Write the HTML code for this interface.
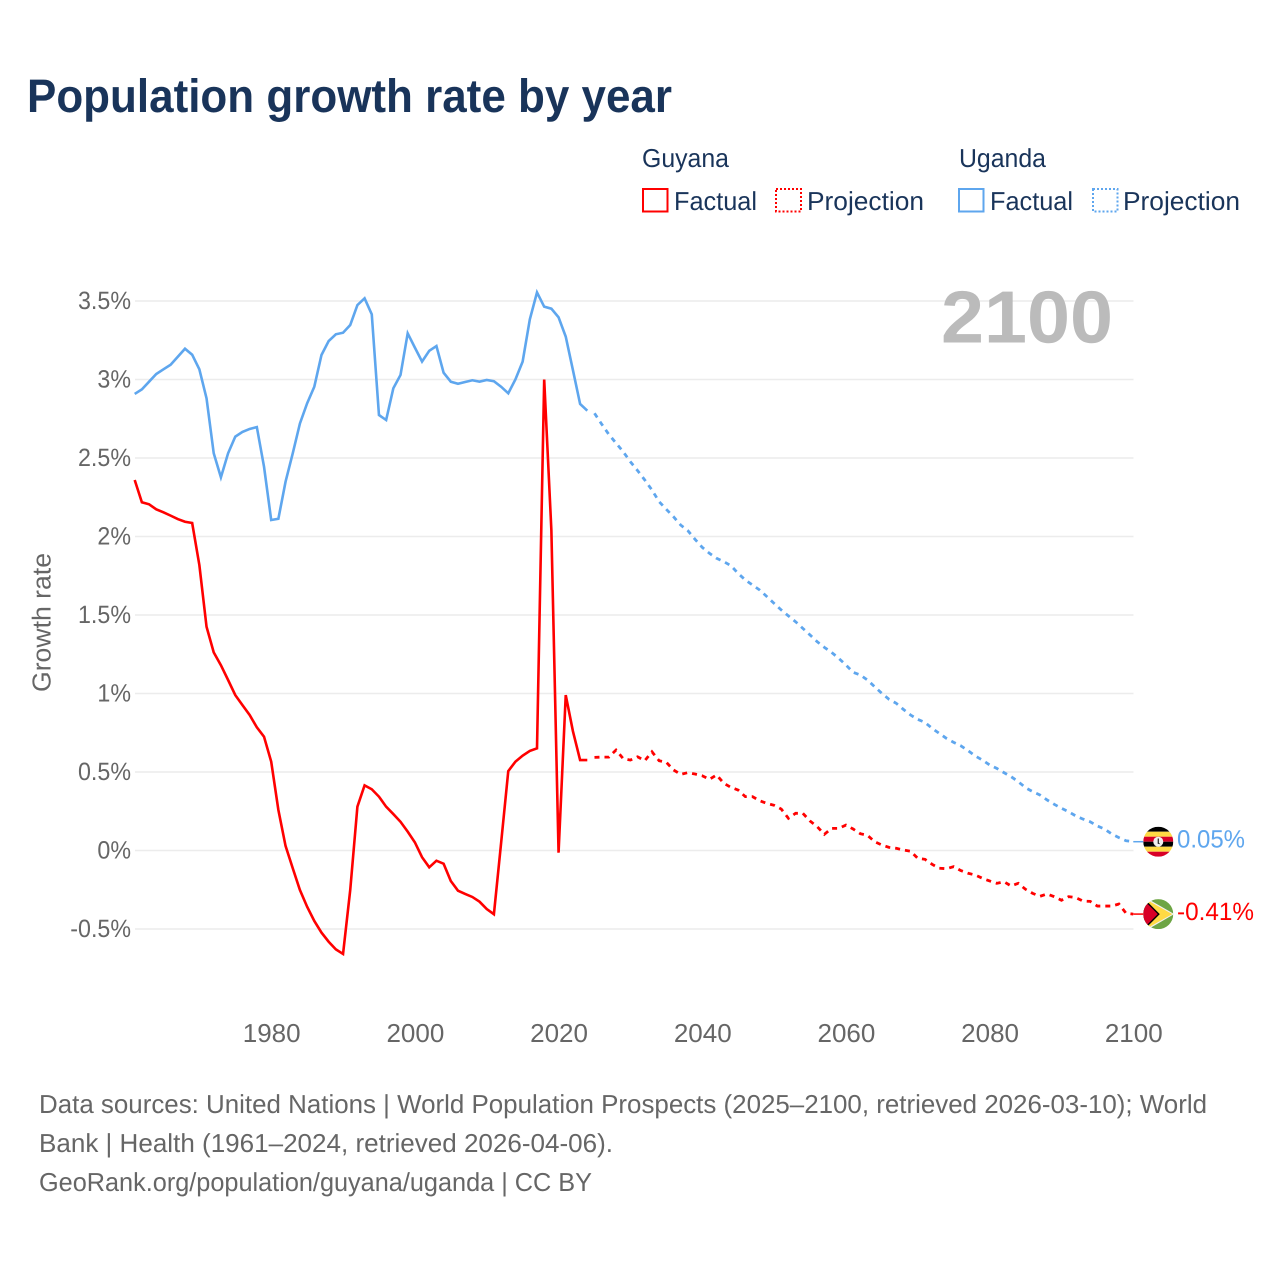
<!DOCTYPE html>
<html lang="en">
<head>
<meta charset="utf-8">
<title>Population growth rate by year</title>
<style>
html,body{margin:0;padding:0;background:#fff;width:1280px;height:1280px;overflow:hidden}
svg{display:block}
text{font-family:"Liberation Sans",sans-serif;text-rendering:geometricPrecision}
</style>
</head>
<body>
<svg id="chart" width="1280" height="1280" viewBox="0 0 1280 1280" xmlns="http://www.w3.org/2000/svg">
  <rect x="0" y="0" width="1280" height="1280" fill="#ffffff"/>
  <text x="27" y="112" font-size="47" font-weight="700" fill="#19345a" textLength="645" lengthAdjust="spacingAndGlyphs">Population growth rate by year</text>

  <g font-size="26" fill="#19345a">
    <text x="642" y="167" textLength="87" lengthAdjust="spacingAndGlyphs">Guyana</text>
    <text x="959" y="167" textLength="87" lengthAdjust="spacingAndGlyphs">Uganda</text>
    <g>
      <rect x="643" y="189" width="24.5" height="22.5" fill="none" stroke="#ff0000" stroke-width="2"/>
      <text x="674" y="210" textLength="83" lengthAdjust="spacingAndGlyphs">Factual</text>
    </g>
    <g>
      <rect x="776" y="189" width="25" height="22.5" fill="none" stroke="#ff0000" stroke-width="2" stroke-dasharray="2 2"/>
      <text x="807" y="210" textLength="117" lengthAdjust="spacingAndGlyphs">Projection</text>
    </g>
    <g>
      <rect x="959" y="189" width="24.5" height="22.5" fill="none" stroke="#5ea6ee" stroke-width="2"/>
      <text x="990" y="210" textLength="83" lengthAdjust="spacingAndGlyphs">Factual</text>
    </g>
    <g>
      <rect x="1093" y="189" width="24.5" height="22.5" fill="none" stroke="#5ea6ee" stroke-width="2" stroke-dasharray="2 2"/>
      <text x="1123" y="210" textLength="117" lengthAdjust="spacingAndGlyphs">Projection</text>
    </g>
  </g>

  <g id="grid"></g>
  <g id="yticks"></g>
  <g id="xticks"></g>
  <text transform="translate(50.5 622.5) rotate(-90)" text-anchor="middle" font-size="26" fill="#666666" textLength="139" lengthAdjust="spacingAndGlyphs">Growth rate</text>
  <text x="1113" y="342.5" text-anchor="end" font-size="74" font-weight="700" fill="#bbbbbb" textLength="172" lengthAdjust="spacingAndGlyphs">2100</text>

  <g id="series"></g>

  <defs>
    <clipPath id="flag-clip-uganda"><circle cx="0" cy="0" r="15"/></clipPath>
    <clipPath id="flag-clip-guyana"><circle cx="0" cy="0" r="15"/></clipPath>
  </defs>
  <g id="flag-uganda" clip-path="url(#flag-clip-uganda)">
    <rect x="-15" y="-15" width="30" height="5" fill="#000000"/>
    <rect x="-15" y="-10" width="30" height="5" fill="#ffda44"/>
    <rect x="-15" y="-5" width="30" height="5" fill="#d80027"/>
    <rect x="-15" y="0" width="30" height="5" fill="#000000"/>
    <rect x="-15" y="5" width="30" height="5" fill="#ffda44"/>
    <rect x="-15" y="10" width="30" height="5" fill="#d80027"/>
    <circle cx="0" cy="0" r="5" fill="#f0f0f0"/>
    <path d="M-0.6 -3.2 L0.6 -3.2 L0.6 1 L2 2.6 L-0.6 2 Z" fill="#222222"/>
  </g>
  <g id="flag-guyana" clip-path="url(#flag-clip-guyana)">
    <rect x="-15" y="-15" width="30" height="30" fill="#6da544"/>
    <path d="M-15 -15 L-10 -15 L16 0 L-10 15 L-15 15 Z" fill="#f0f0f0"/>
    <path d="M-15 -13.5 L-10 -13.5 L14 0 L-10 13.5 L-15 13.5 Z" fill="#ffda44"/>
    <path d="M-15 -11.5 L-10 -11.5 L1.5 0 L-10 11.5 L-15 11.5 Z" fill="#000000"/>
    <path d="M-15 -10 L-10.5 -10 L-0.5 0 L-10.5 10 L-15 10 Z" fill="#d80027"/>
  </g>
  <text id="end-label-uganda" x="1177" font-size="25" fill="#5ea6ee" textLength="68" lengthAdjust="spacingAndGlyphs">0.05%</text>
  <text id="end-label-guyana" x="1177" font-size="25" fill="#ff0000" textLength="77" lengthAdjust="spacingAndGlyphs">-0.41%</text>

  <g font-size="26" fill="#666666">
    <text x="39" y="1113" textLength="1168" lengthAdjust="spacingAndGlyphs">Data sources: United Nations | World Population Prospects (2025–2100, retrieved 2026-03-10); World</text>
    <text x="39" y="1152" textLength="574" lengthAdjust="spacingAndGlyphs">Bank | Health (1961–2024, retrieved 2026-04-06).</text>
    <text x="39" y="1191" textLength="553" lengthAdjust="spacingAndGlyphs">GeoRank.org/population/guyana/uganda | CC BY</text>
  </g>
</svg>
<script>
const factualStartYear = 1961;
const projectionStartYear = 2025;
const yTickValues = [-0.5, 0, 0.5, 1, 1.5, 2, 2.5, 3, 3.5];
const yTickLabels = ["-0.5%", "0%", "0.5%", "1%", "1.5%", "2%", "2.5%", "3%", "3.5%"];
const xTickYears = [1980, 2000, 2020, 2040, 2060, 2080, 2100];
const guyanaFactual = [2.36,2.218,2.205,2.173,2.154,2.133,2.111,2.094,2.086,1.818,1.425,1.262,1.18,1.086,0.99,0.926,0.863,0.785,0.725,0.566,0.258,0.029,-0.113,-0.252,-0.358,-0.449,-0.523,-0.581,-0.63,-0.659,-0.252,0.279,0.415,0.39,0.343,0.279,0.232,0.183,0.12,0.052,-0.043,-0.107,-0.065,-0.084,-0.194,-0.256,-0.277,-0.296,-0.326,-0.373,-0.406,0.046,0.506,0.566,0.604,0.634,0.651,3.0,2.04,-0.014,0.99,0.76,0.576,0.576];
const guyanaProjection = [0.593,0.595,0.595,0.64,0.585,0.576,0.597,0.572,0.629,0.572,0.562,0.513,0.485,0.496,0.487,0.476,0.453,0.481,0.428,0.402,0.385,0.343,0.343,0.317,0.30,0.288,0.264,0.205,0.237,0.237,0.188,0.152,0.103,0.141,0.141,0.162,0.137,0.107,0.097,0.056,0.035,0.02,0.014,0.003,-0.005,-0.05,-0.056,-0.088,-0.113,-0.116,-0.103,-0.128,-0.145,-0.156,-0.177,-0.194,-0.209,-0.199,-0.226,-0.209,-0.247,-0.273,-0.292,-0.277,-0.294,-0.317,-0.294,-0.30,-0.322,-0.324,-0.354,-0.354,-0.354,-0.341,-0.40,-0.405];
const ugandaFactual = [2.908,2.937,2.986,3.035,3.065,3.094,3.145,3.196,3.158,3.065,2.88,2.53,2.377,2.53,2.636,2.666,2.685,2.697,2.445,2.105,2.113,2.349,2.53,2.72,2.848,2.954,3.156,3.245,3.288,3.298,3.347,3.474,3.517,3.415,2.774,2.742,2.944,3.029,3.294,3.203,3.114,3.183,3.213,3.043,2.986,2.973,2.984,2.995,2.986,2.997,2.989,2.954,2.912,3.001,3.114,3.383,3.555,3.464,3.451,3.396,3.273,3.06,2.844,2.801];
const ugandaProjection = [2.785,2.716,2.65,2.595,2.54,2.476,2.42,2.36,2.296,2.222,2.173,2.126,2.073,2.037,1.982,1.931,1.893,1.861,1.84,1.814,1.765,1.723,1.691,1.659,1.617,1.574,1.532,1.494,1.457,1.415,1.373,1.33,1.294,1.262,1.224,1.182,1.135,1.118,1.086,1.043,1.001,0.963,0.938,0.899,0.863,0.835,0.816,0.778,0.746,0.714,0.689,0.667,0.636,0.602,0.576,0.545,0.523,0.496,0.47,0.438,0.40,0.375,0.354,0.322,0.294,0.269,0.247,0.22,0.20,0.183,0.156,0.137,0.105,0.082,0.062,0.056];

const SVG_NS = "http://www.w3.org/2000/svg";
const RED = "#ff0000";
const BLUE = "#5ea6ee";
function xScale(year) { return 134.7 + (year - 1961) * 7.184; }
function yScale(value) { return 850.5 - value * 157; }
function make(tag, attrs, parent) {
  const el = document.createElementNS(SVG_NS, tag);
  for (const k in attrs) el.setAttribute(k, attrs[k]);
  parent.appendChild(el);
  return el;
}
function pathFrom(values, startYear) {
  return values.map(function (v, i) {
    return (i ? "L" : "M") + xScale(startYear + i).toFixed(2) + " " + yScale(v).toFixed(2);
  }).join(" ");
}

const gridGroup = document.getElementById("grid");
const yGroup = document.getElementById("yticks");
const xGroup = document.getElementById("xticks");
const seriesGroup = document.getElementById("series");

yTickValues.forEach(function (v, i) {
  const line = make("line", {x1: 135, x2: 1133.5, y1: yScale(v), y2: yScale(v), stroke: "#ececec", "stroke-width": 1.5}, gridGroup);
  
  
  const label = make("text", {x: 131, y: yScale(v) + 8, "text-anchor": "end", "font-size": 25, fill: "#666666", lengthAdjust: "spacingAndGlyphs"}, yGroup);
  
  
  label.textContent = yTickLabels[i];
  label.setAttribute("textLength", (label.getComputedTextLength() * 0.93).toFixed(1));
});

xTickYears.forEach(function (year) {
  const label = make("text", {x: xScale(year) + 0.5, y: 1042, "text-anchor": "middle", "font-size": 26, fill: "#666666"}, xGroup);
  
  
  label.textContent = String(year);
});

const lineGuyanaFactual = make("path", {d: pathFrom(guyanaFactual, factualStartYear), fill: "none", stroke: RED, "stroke-width": 2.6, "stroke-linejoin": "miter"}, seriesGroup);



const lineGuyanaProjection = make("path", {d: pathFrom(guyanaProjection, projectionStartYear), fill: "none", stroke: RED, "stroke-width": 2.8, "stroke-dasharray": "5 5"}, seriesGroup);



const lineUgandaFactual = make("path", {d: pathFrom(ugandaFactual, factualStartYear), fill: "none", stroke: BLUE, "stroke-width": 2.6, "stroke-linejoin": "miter"}, seriesGroup);



const lineUgandaProjection = make("path", {d: pathFrom(ugandaProjection, projectionStartYear), fill: "none", stroke: BLUE, "stroke-width": 2.8, "stroke-dasharray": "5 5"}, seriesGroup);



const lastYear = projectionStartYear + ugandaProjection.length - 1;
const lastUganda = yScale(ugandaProjection[ugandaProjection.length - 1]);
const lastGuyana = yScale(guyanaProjection[guyanaProjection.length - 1]);

const guideUganda = make("line", {x1: xScale(lastYear), x2: xScale(lastYear) + 10, y1: lastUganda, y2: lastUganda, stroke: BLUE, "stroke-width": 1.5}, seriesGroup);



const guideGuyana = make("line", {x1: xScale(lastYear), x2: xScale(lastYear) + 10, y1: lastGuyana, y2: lastGuyana, stroke: RED, "stroke-width": 1.5}, seriesGroup);



document.getElementById("flag-uganda").setAttribute("transform", "translate(" + (xScale(lastYear) + 25) + " " + lastUganda + ")");
document.getElementById("flag-guyana").setAttribute("transform", "translate(" + (xScale(lastYear) + 25) + " " + lastGuyana + ")");
document.getElementById("end-label-uganda").setAttribute("y", lastUganda + 6);
document.getElementById("end-label-guyana").setAttribute("y", lastGuyana + 6);
</script>
</body>
</html>
